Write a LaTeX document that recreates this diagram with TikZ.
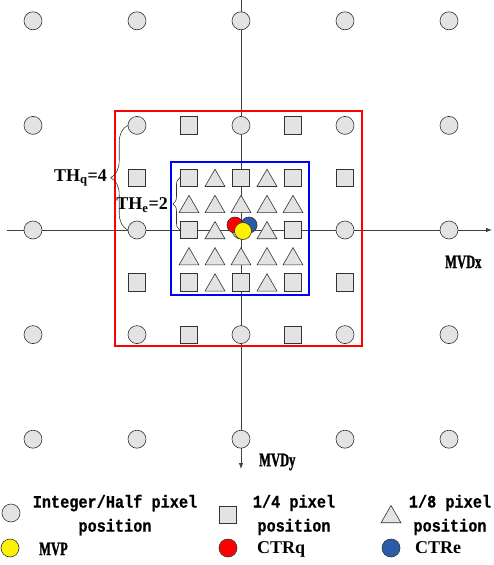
\documentclass[tikz,border=0pt]{standalone}
\usepackage{fontspec}
\setmainfont{Liberation Serif}
\newfontfamily\monof[FakeStretch=0.87,FakeBold=0.6]{Liberation Mono}
\newfontfamily\condserif[FakeStretch=0.66,FakeBold=1.2]{Liberation Serif}
\usetikzlibrary{shapes.geometric,arrows.meta,decorations.pathreplacing}
\definecolor{shapegray}{HTML}{E3E3E3}
\definecolor{ctreblue}{HTML}{2A5CA8}
\begin{document}
\begin{tikzpicture}[x=1pt,y=-1pt,
 hp/.style={circle,draw=black!80,fill=shapegray,line width=0.6pt,minimum size=18pt,inner sep=0pt},
 qp/.style={rectangle,draw=black!80,fill=shapegray,line width=0.6pt,minimum size=17.5pt,inner sep=0pt},
 ep/.style={regular polygon,regular polygon sides=3,draw=black!80,fill=shapegray,line width=0.6pt,minimum size=23pt,inner sep=0pt},
 dot/.style={circle,draw=black!80,line width=0.6pt,minimum size=16pt,inner sep=0pt},
 axis/.style={draw=black!75,line width=0.8pt},
 bracestyle/.style={draw=black!80,line width=0.6pt,decorate},
 mono/.style={font=\monof\bfseries\fontsize{17.5}{24}\selectfont,inner sep=0pt},
 axlabel/.style={font=\condserif\bfseries\fontsize{19}{20}\selectfont,inner sep=0pt},
 serb/.style={font=\bfseries\fontsize{18}{20}\selectfont,inner sep=0pt},
]
\useasboundingbox (0,0) rectangle (493,565);
% axes
\coordinate (xl) at (7,230);
\coordinate (xr) at (492,230);
\coordinate (yt) at (241,0);
\coordinate (yb) at (241,469);
\draw[axis,-{Latex[length=6pt,width=4.5pt]}] (xl) -- (xr);
\draw[axis,-{Latex[length=6pt,width=4.5pt]}] (yt) -- (yb);
% threshold boxes
\draw[red,line width=1.8pt] (115,111) rectangle (362,346);
\draw[blue,line width=1.8pt] (171,162) rectangle (309,295);
% integer / half pixel positions
\foreach \i in {0,...,4}{\foreach \j in {0,...,4}{
  \node[hp] (h\i\j) at ({241+104*(\i-2)},{230+104.6*(\j-2)}) {};
}}
% quarter pixel positions
\foreach \a/\b/\n in {-1/-1/a,0/-1/b,1/-1/c,-1/0/d,1/0/e,-1/1/f,0/1/g,1/1/h,
  -1/-2/i,1/-2/j,-1/2/k,1/2/l,-2/-1/m,-2/1/n,2/-1/o,2/1/p}{
  \node[qp] (q\n) at ({241+52*\a},{230+52.3*\b}) {};
}
% eighth pixel positions
\foreach \p in {-2,...,2}{\foreach \q in {-2,...,2}{
  \pgfmathtruncatemacro\oddsum{mod(abs(\p),2)+mod(abs(\q),2)}
  \ifnum\oddsum>0
    \node[ep] (e\p\q) at ({241+26*\p},{230+26.15*\q+3}) {};
  \fi
}}
% centres
\node[dot,fill=red] (ctrq) at (235,225) {};
\node[dot,fill=ctreblue] (ctre) at (249,225) {};
\node[dot,fill=yellow,minimum size=17pt] (mvp) at (243,231) {};
% braces
\draw[bracestyle,decoration={brace,amplitude=17pt}] (h12.west) -- (h11.west);
\node[serb,anchor=east] (thq) at (107,178) {TH\textsubscript{q}=4};
\draw[bracestyle,decoration={brace,amplitude=7pt}] (qd.west) -- (qa.west);
\node[serb,anchor=east] (the) at (168,205) {TH\textsubscript{e}=2};
% axis labels
\node[axlabel,anchor=west] (mvdx) at (445,262) {MVDx};
\node[axlabel,anchor=west] (mvdy) at (259,462) {MVDy};
% legend
\node[hp] (lh) at (11,513) {};
\node[mono,align=center] (lht) at (115,515) {Integer/Half pixel\\position};
\node[qp] (lq) at (228,515) {};
\node[mono,align=center] (lqt) at (294,515) {1/4 pixel\\position};
\node[ep] (le) at (391,517) {};
\node[mono,align=center] (let) at (450,515) {1/8 pixel\\position};
\node[dot,fill=yellow,minimum size=18pt] (lmvp) at (10,548) {};
\node[axlabel,anchor=west] (lmvpt) at (39,549) {MVP};
\node[dot,fill=red,minimum size=18pt] (lctrq) at (228,548) {};
\node[serb,anchor=west] (lctrqt) at (257,549) {CTRq};
\node[dot,fill=ctreblue,minimum size=18pt] (lctre) at (391,548) {};
\node[serb,anchor=west] (lctret) at (415,548) {CTRe};
\end{tikzpicture}
\end{document}
